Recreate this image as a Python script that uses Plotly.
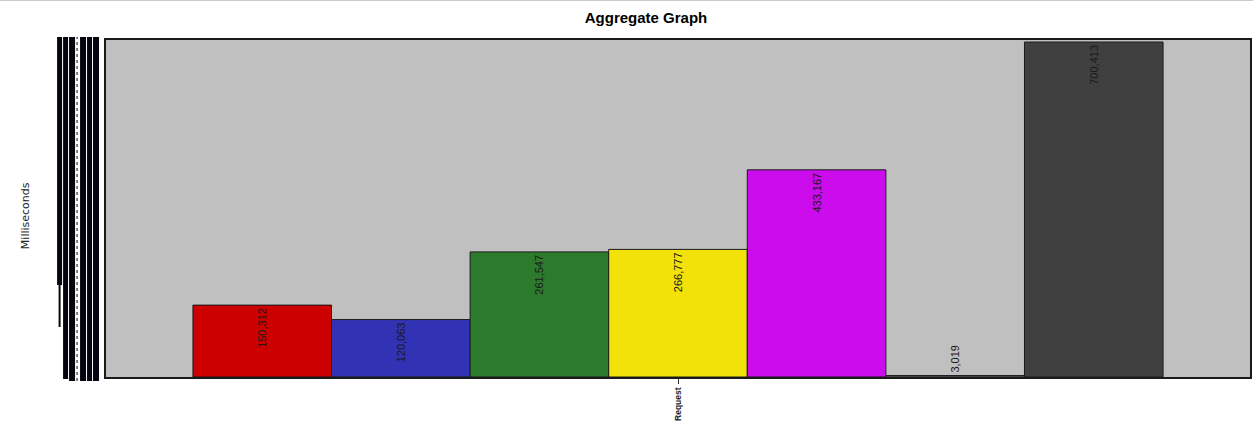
import plotly.graph_objects as go

# ---- data ----
category = ["Request"]
series_names = ["S1", "S2", "S3", "S4", "S5", "S6", "S7"]
series_values = [150312, 120063, 261547, 266777, 433167, 3019, 700413]
series_colors = ["#CC0000", "#3232B4", "#2C7A2C", "#F2E20A", "#CC0CEC", "#707070", "#404040"]
y_title = "Milliseconds"
chart_title = "Aggregate Graph"

W, H = 1255, 439
ML, MR, MT, MB = 106, 3, 40, 62
PW, PH = W - ML - MR, H - MT - MB

def px_x(px):
    return (px - ML) / PW

def px_y(py):
    return (H - MB - py) / PH

fig = go.Figure()
for name, val, col in zip(series_names, series_values, series_colors):
    fig.add_trace(go.Bar(
        x=category, y=[val], name=name,
        marker=dict(color=col, line=dict(color="#1a1a1a", width=1)),
        text=[f"{val:,}"], textposition="auto", textangle=-90,
        insidetextanchor="end", constraintext="none",
        insidetextfont=dict(family="Liberation Sans, Arial", size=11, color="#1a1a1a"),
        outsidetextfont=dict(family="Liberation Sans, Arial", size=11, color="#1a1a1a"),
        cliponaxis=False, hoverinfo="skip",
    ))

shapes = []
# garbled y-axis tick label blocks (decorative)
cols = [(57, 62, 37, 285), (63, 68, 37, 379), (69, 75, 37, 381),
        (80, 86, 37, 381), (87, 92, 37, 381), (93, 99, 37, 381)]
for x0, x1, y0, y1 in cols:
    shapes.append(dict(type="rect", xref="paper", yref="paper",
                       x0=px_x(x0), x1=px_x(x1), y0=px_y(y1), y1=px_y(y0),
                       fillcolor="#05050f", line=dict(width=0), layer="above"))
shapes.append(dict(type="line", xref="paper", yref="paper",
                   x0=px_x(59.5), x1=px_x(59.5), y0=px_y(327), y1=px_y(285),
                   line=dict(color="#05050f", width=2)))
shapes.append(dict(type="line", xref="paper", yref="paper",
                   x0=px_x(77), x1=px_x(77), y0=px_y(381), y1=px_y(37),
                   line=dict(color="#05050f", width=1, dash="dot")))
# top grey separator line
shapes.append(dict(type="line", xref="paper", yref="paper",
                   x0=px_x(0), x1=px_x(W), y0=px_y(0.5), y1=px_y(0.5),
                   line=dict(color="#c8c8d0", width=1)))

fig.update_layout(
    width=W, height=H,
    margin=dict(l=ML, r=MR, t=MT, b=MB),
    paper_bgcolor="white",
    plot_bgcolor="#C0C0C0",
    barmode="group", bargap=0.152, bargroupgap=0,
    showlegend=False,
    title=dict(text="<b>" + chart_title + "</b>", x=646 / W, xref="container",
               xanchor="center", y=1 - 18 / H, yanchor="middle",
               font=dict(family="Liberation Sans, Arial", size=15, color="black")),
    xaxis=dict(showline=True, linecolor="#1a1a1a", linewidth=2, mirror=True,
               ticks="outside", ticklen=5, tickcolor="#333", tickangle=-90,
               tickfont=dict(family="Liberation Sans, Arial", size=8.5, color="#222",
                             weight="bold"),
               showgrid=False),
    yaxis=dict(range=[0, 704600], showline=True, linecolor="#1a1a1a", linewidth=2,
               mirror=True, showticklabels=False, ticks="", showgrid=False,
               zeroline=False),
    shapes=shapes,
    annotations=[dict(text=y_title, xref="paper", yref="paper",
                      x=px_x(25), y=px_y(216), textangle=-90, showarrow=False,
                      xanchor="center", yanchor="middle",
                      font=dict(family="DejaVu Sans", size=11, color="#222"))],
)

fig.write_html(
    "out.html",
    config={"displayModeBar": False},
    post_script="document.body.style.margin='0';document.body.style.overflow='hidden';"
                "document.documentElement.style.overflow='hidden';",
)
